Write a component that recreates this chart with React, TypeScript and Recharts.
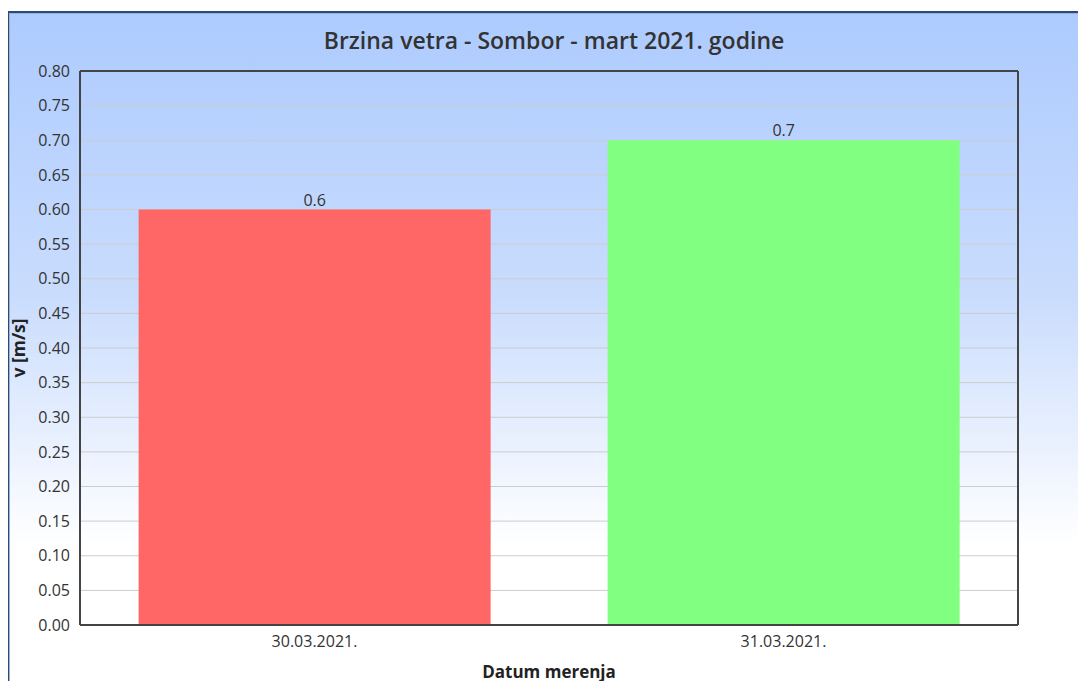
import React from "react";
import {
  BarChart,
  Bar,
  XAxis,
  YAxis,
  CartesianGrid,
  Cell,
  LabelList,
  Label,
} from "recharts";

const categories = ["30.03.2021.", "31.03.2021."];
const speeds = [0.6, 0.7];
const barColors = ["#ff6666", "#80ff80"];
const yTicks = [
  0, 0.05, 0.1, 0.15, 0.2, 0.25, 0.3, 0.35, 0.4, 0.45, 0.5, 0.55, 0.6, 0.65,
  0.7, 0.75, 0.8,
];

const data = categories.map((c, i) => ({ date: c, v: speeds[i] }));

const FONT = "'Open Sans', 'Noto Sans', sans-serif";

export default function App() {
  return (
    <div
      style={{
        position: "relative",
        width: 1086,
        height: 689,
        margin: -8,
        overflow: "hidden",
        background: "#ffffff",
        fontFamily: FONT,
      }}
    >
      <div
        style={{
          position: "absolute",
          left: 7,
          top: 11,
          width: 1120,
          height: 700,
          borderTop: "2px solid #284a7c",
          borderLeft: "2px solid #284a7c",
          boxShadow: "inset 1px 1px 0 #9fb0c8",
          background:
            "linear-gradient(to bottom, #adcbff 0%, #c9dcfd 40%, #ffffff 76%, #ffffff 100%)",
        }}
      />
      <div
        style={{
          position: "absolute",
          left: 0,
          top: 26,
          width: 1108,
          textAlign: "center",
          fontSize: 23,
          fontWeight: 600,
          color: "#333333",
          lineHeight: "28px",
        }}
      >
        Brzina vetra - Sombor - mart 2021. godine
      </div>
      <div style={{ position: "absolute", left: 0, top: 0 }}>
        <BarChart
          width={1086}
          height={689}
          data={data}
          margin={{ top: 70, right: 67, bottom: 0, left: 8 }}
          barCategoryGap="12.5%"
        >
          <CartesianGrid vertical={false} stroke="#cccccc" strokeWidth={1} />
          <XAxis
            dataKey="date"
            height={64}
            tickLine={false}
            tickMargin={5}
            axisLine={{ stroke: "#444444", strokeWidth: 2 }}
            tick={{ fill: "#333333", fontSize: 16, fontFamily: FONT }}
          >
            <Label
              value="Datum merenja"
              position="insideBottom"
              offset={11}
              style={{
                fill: "#222222",
                fontSize: 17,
                fontWeight: 700,
                fontFamily: FONT,
              }}
            />
          </XAxis>
          <XAxis
            xAxisId="top"
            dataKey="date"
            orientation="top"
            height={1}
            tick={false}
            tickLine={false}
            axisLine={{ stroke: "#444444", strokeWidth: 2 }}
          />
          <YAxis
            domain={[0, 0.8]}
            ticks={yTicks}
            interval={0}
            width={72}
            tickLine={false}
            tickMargin={4}
            tickFormatter={(t: number) => t.toFixed(2)}
            axisLine={{ stroke: "#444444", strokeWidth: 2 }}
            tick={{ fill: "#333333", fontSize: 16, fontFamily: FONT }}
          >
            <Label
              content={(props: any) => {
                const vb = props.viewBox || {};
                const cx = 18;
                const cy = vb.y + vb.height / 2;
                return (
                  <text
                    x={cx}
                    y={cy}
                    transform={`rotate(-90 ${cx} ${cy})`}
                    textAnchor="middle"
                    dominantBaseline="central"
                    fill="#222222"
                    fontSize={17.5}
                    fontWeight={700}
                    fontFamily={FONT}
                  >
                    v [m/s]
                  </text>
                );
              }}
            />
          </YAxis>
          <YAxis
            yAxisId="right"
            orientation="right"
            domain={[0, 0.8]}
            width={1}
            tick={false}
            tickLine={false}
            axisLine={{ stroke: "#444444", strokeWidth: 2 }}
          />
          <Bar dataKey="v" isAnimationActive={false}>
            {data.map((d, i) => (
              <Cell key={d.date} fill={barColors[i]} />
            ))}
            <LabelList
              dataKey="v"
              position="top"
              offset={4}
              style={{ fill: "#333333", fontSize: 16, fontFamily: FONT }}
            />
          </Bar>
        </BarChart>
      </div>
    </div>
  );
}
